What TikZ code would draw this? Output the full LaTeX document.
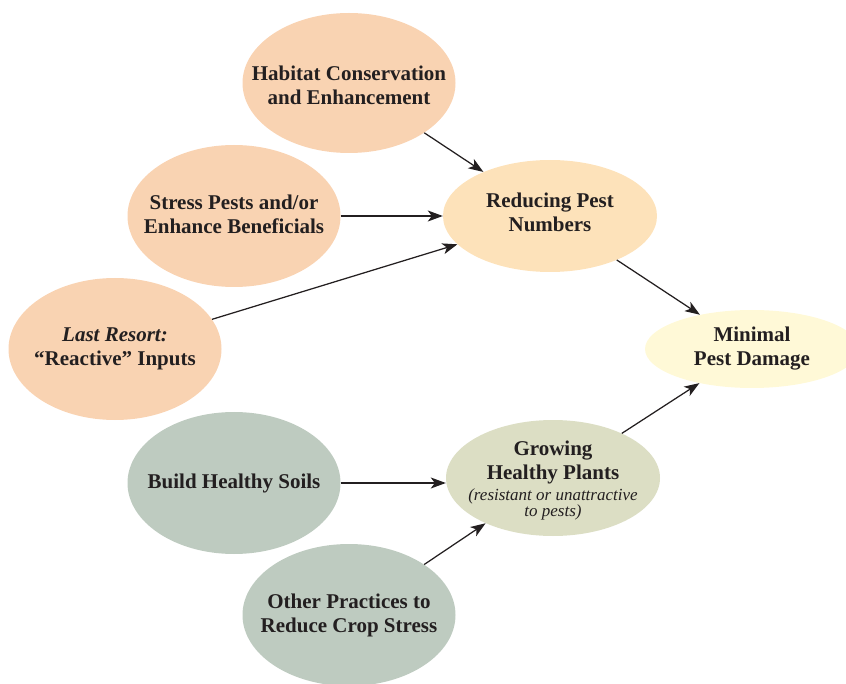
\documentclass[tikz,border=0pt]{standalone}
\usepackage{fontspec}
\setmainfont{Liberation Serif}
\usetikzlibrary{arrows.meta,shapes.geometric}
\definecolor{ipmpeach}{RGB}{249,211,178}
\definecolor{ipmtan}{RGB}{253,226,186}
\definecolor{ipmcream}{RGB}{255,249,215}
\definecolor{ipmsage}{RGB}{190,203,192}
\definecolor{ipmsagelt}{RGB}{220,222,196}
\definecolor{ipmink}{RGB}{35,31,32}
\newcommand{\notefont}{\mdseries\itshape\fontsize{17}{17}\selectfont}

\begin{document}
\begin{tikzpicture}[x=1pt,y=-1pt,
  blob/.style={ellipse,draw=none,inner sep=0pt,minimum width=213pt,minimum height=142pt},
  txt/.style={text=ipmink,font=\bfseries\fontsize{21}{24}\selectfont,align=center},
  link/.style={-{Stealth[length=15pt,width=11pt,inset=4pt]},line width=1.25pt,ipmink}]
\useasboundingbox (0,0) rectangle (846,684);
% Practices (left)
\node[blob,fill=ipmpeach,minimum height=140pt,label={[txt,yshift=-2pt]center:Habitat Conservation\\and Enhancement}] (habitat) at (349,83) {};
\node[blob,fill=ipmpeach,label={[txt,yshift=2pt]center:Stress Pests and/or\\Enhance Beneficials}] (stress) at (234,216) {};
\node[blob,fill=ipmpeach,label={[txt]center:\textit{Last Resort:}\\``Reactive'' Inputs}] (resort) at (115,349) {};
\node[blob,fill=ipmsage,label={[txt]center:Build Healthy Soils}] (soils) at (234,483) {};
\node[blob,fill=ipmsage,label={[txt]center:Other Practices to\\Reduce Crop Stress}] (other) at (349,615) {};
% Goals (middle and right)
\node[blob,fill=ipmtan,minimum width=214pt,minimum height=112pt,label={[txt,yshift=4pt]center:Reducing Pest\\Numbers}] (reducing) at (550,216) {};
\node[blob,fill=ipmsagelt,minimum width=214pt,minimum height=116pt,label={[txt,yshift=-3pt]center:Growing\\Healthy Plants\\[-3pt]{\notefont (resistant or unattractive}\\[-8pt]{\notefont to pests)}}] (plants) at (553,478) {};
\node[blob,fill=ipmcream,minimum width=214pt,minimum height=78pt,label={[txt]center:Minimal\\Pest Damage}] (damage) at (752,349) {};
% Arrows
\draw[link] (habitat) -- (reducing);
\draw[link] (stress) -- (reducing);
\draw[link] (resort) -- (reducing);
\draw[link] (reducing) -- (damage);
\draw[link] (soils.east) -- (plants.west |- soils.east);
\draw[link] (other) -- (plants);
\draw[link] (plants) -- (damage);
\end{tikzpicture}
\end{document}
